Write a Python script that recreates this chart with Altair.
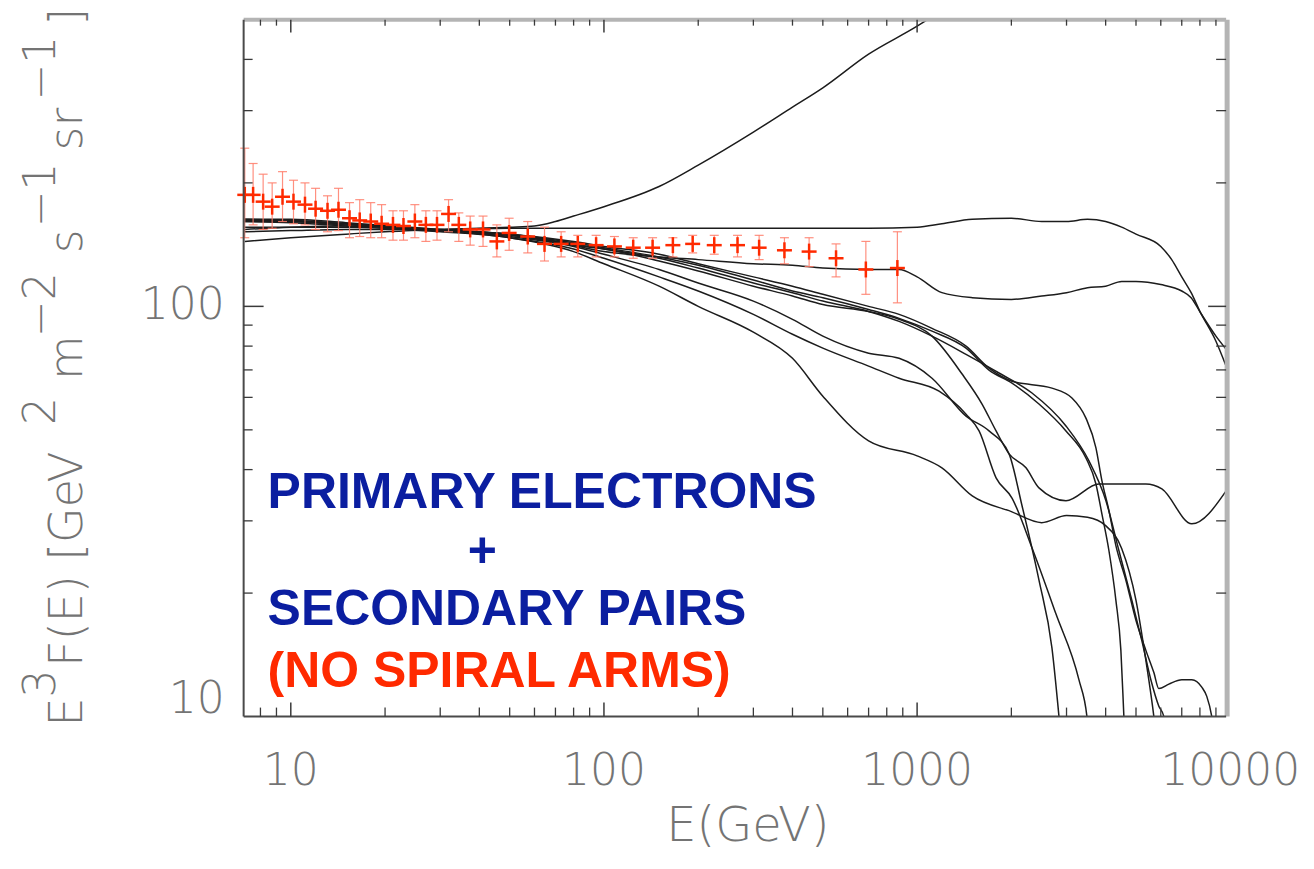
import altair as alt
import pandas as pd

# ---------------- data ----------------
# observed spectrum (red crosses): energy [GeV], E^3F, upper / lower error
obs_E = [7.13, 7.58, 8.16, 8.72, 9.41, 10.2, 11.1, 12.0, 13.1, 14.2, 15.4, 16.6, 18.0, 19.5,
         21.2, 22.9, 24.9, 27.0, 29.3, 31.9, 34.4, 37.4, 41.1, 45.5, 49.8, 57.1, 64.6, 73.0,
         82.5, 94.4, 108, 124, 143, 166, 192, 225, 267, 313, 377, 452, 551, 686, 865]
obs_F = [187, 187, 180, 175, 185, 180, 177, 173, 171, 172, 164, 162, 161, 159, 158, 157, 161,
         158, 158, 168, 158, 154, 154, 144, 151, 148, 142, 142, 142, 141, 140, 139, 139, 141,
         142, 141, 141, 139, 137, 136, 131, 123, 124]
obs_hi = [243, 223, 210, 200, 213, 203, 200, 194, 186, 194, 179, 182, 179, 177, 171, 171, 177,
          171, 171, 182, 169, 166, 166, 158, 164, 161, 156, 152, 149, 149, 148, 147, 147, 147,
          149, 149, 149, 149, 147, 147, 142, 144, 152]
obs_lo = [147, 158, 154, 155, 161, 159, 158, 154, 152, 153, 147, 148, 147, 147, 145, 145, 147,
          144, 145, 152, 144, 141, 140, 132, 137, 135, 129, 132, 132, 132, 132, 131, 131, 132,
          135, 134, 132, 130, 127, 125, 118, 107, 102]

# model curves (black lines)
A_E = [7.13, 10, 15, 20, 30, 50, 60, 70, 80, 100, 150, 200, 300, 400, 500, 700, 1000, 1200]
A_F = [144, 147, 150, 152, 154, 156, 157, 161, 166, 175, 196, 221, 266, 306, 341, 412, 482, 527]

B_E = [7.13, 10, 15, 30, 50, 100, 200, 300, 500, 700, 1000, 1200, 1500, 2000, 2500, 3000,
       3500, 4000, 4500, 5000, 6000, 6500, 7000, 7500, 8000, 9000, 9700]
B_F = [152, 153, 154, 154, 155, 155, 155, 155, 155, 155, 156, 159, 163, 164, 161, 161,
       163, 161, 156, 150, 140, 130, 118, 108, 97.2, 82.2, 71.5]

C_E = [7.13, 10, 15, 20, 30, 50, 70, 100, 150, 200, 300, 400, 500, 700, 876, 1000, 1200, 1500,
       2000, 2500, 3000, 3500, 4000, 4500, 5000, 6000, 7000, 7500, 8000, 9000, 9700]
C_F = [161, 160, 157, 156, 153, 150, 144, 136, 132, 130, 127, 126, 124, 123, 123, 118, 108, 105,
       104, 106, 108, 111, 112, 115, 115, 113, 109, 105, 97, 84.6, 78.6]

D_E = [7.13, 10, 15, 30, 50, 80, 100, 150, 200, 300, 400, 500, 700, 876, 1116, 1433, 1697,
       2009, 2695, 3122, 3460, 3724, 3891, 4097, 4313, 4642, 4995, 5377, 5702, 5915, 6366,
       7003, 7537, 8110, 8414, 8730, 8924]
D_F = [163, 163, 160, 154, 150, 144, 140, 134, 127, 118, 112, 107, 100, 95.6, 88.4, 80.0, 70.7,
       65.7, 63.2, 59.8, 53.4, 45.2, 37.6, 31.8, 26.1, 21.5, 17.2, 14.5, 12.8, 11.7, 12.0,
       12.3, 12.3, 11.8, 11.2, 10.0, 8.84]

D2_E = [7.13, 10, 15, 30, 50, 80, 100, 150, 200, 300, 400, 500, 700, 876, 1116, 1433, 1697,
        2009, 2450, 2988, 3460, 3724, 3891, 4097, 4313, 4474, 4574, 4642]
D2_F = [162, 162, 159, 154, 150, 143, 139, 132, 126, 116, 109, 105, 98.3, 93.5, 87.0, 79.1,
        69.9, 65.0, 57.8, 49.7, 42.7, 36.9, 31.2, 25.4, 19.2, 14.5, 10.0, 7.81]

J_E = [7.13, 10, 15, 30, 50, 80, 100, 150, 200, 300, 400, 500, 700, 876, 1116, 1433, 1826,
       2327, 2988, 3538, 4008, 4409, 4851, 5221, 5577, 5915, 6137, 6273]
J_F = [161, 161, 159, 153, 149, 142, 138, 131, 124, 114, 108, 103, 97.2, 91.9, 84.6, 76.4,
       68.8, 61.5, 51.1, 42.0, 33.6, 25.4, 19.2, 15.3, 12.3, 10.6, 10.0, 8.84]

V_E = [7.13, 10, 15, 30, 50, 80, 100, 150, 200, 300, 400, 500, 700, 876, 1116, 1392, 1612,
       1787, 1966, 2227, 2450, 2988, 3806, 5377, 6048, 7537, 9700]
V_F = [154, 156, 157, 153, 149, 141, 138, 129, 122, 112, 106, 101, 97.2, 93.0, 84.6, 68.4,
       57.8, 49.7, 43.7, 40.4, 36.1, 33.6, 36.9, 36.9, 35.9, 29.5, 35.5]

L_E = [7.13, 10, 15, 30, 50, 80, 100, 150, 200, 300, 400, 500, 700, 1000, 1200, 1500, 2000,
       2500, 3000, 3500, 4000, 4500, 5000, 5377, 5702, 5915]
L_F = [156, 156, 156, 152, 147, 136, 127, 112, 100, 86.5, 74.7, 60.4, 47.0, 43.2, 40.4, 34.5,
       31.6, 29.7, 30.9, 30.6, 29.2, 25.7, 19.2, 13.7, 10.0, 7.81]

G_E = [7.13, 10, 15, 30, 50, 80, 100, 150, 200, 300, 400, 500, 700, 876, 1116, 1433, 1697,
       1966, 2162, 2450, 2695, 2838, 2922]
G_F = [163, 162, 159, 153, 148, 140, 134, 123, 114, 103, 93.0, 84.6, 76.9, 74.7, 66.8, 54.0,
       49.7, 43.7, 32.7, 21.5, 14.7, 10.0, 7.81]

H_E = [7.13, 10, 15, 30, 50, 80, 100, 150, 200, 300, 400, 500, 700, 876, 1175, 1433, 1577,
       1787, 2009, 2327, 2775, 3286, 3486, 3589]
H_F = [162, 161, 158, 153, 147, 138, 131, 118, 109, 95.6, 85.5, 79.1, 71.5, 66.8, 62.1, 54.6,
       49.7, 38.2, 34.1, 25.8, 17.8, 12.3, 10.0, 7.81]

# axis ticks and labels
x_major = [10, 100, 1000]
x_minor = [8, 9, 20, 30, 40, 50, 60, 70, 80, 90, 200, 300, 400, 500, 600, 700, 800, 900,
           2000, 3000, 4000, 5000, 6000, 7000, 8000, 9000]
y_major = [100]
y_minor = [20, 30, 40, 50, 60, 70, 80, 90, 200, 300, 400]
x_label_vals = [10, 100, 1000, 10000]
x_label_txt = ["10", "100", "1000", "10000"]

# ---------------- build tables ----------------
curves = {"A": (A_E, A_F), "B": (B_E, B_F), "C": (C_E, C_F), "D": (D_E, D_F),
          "D2": (D2_E, D2_F), "J": (J_E, J_F), "V": (V_E, V_F), "L": (L_E, L_F),
          "G": (G_E, G_F), "H": (H_E, H_F)}
rows = []
for name, (es, fs) in curves.items():
    for e, f in zip(es, fs):
        rows.append({"curve": name, "E": e, "F": f})
curve_df = pd.DataFrame(rows)
obs_df = pd.DataFrame({"E": obs_E, "F": obs_F, "hi": obs_hi, "lo": obs_lo})

W, H = 984, 698
xs = alt.Scale(type="log", domain=[7.07, 9700], nice=False)
ys = alt.Scale(type="log", domain=[10, 500], nice=False)


def X(f):
    return alt.X(f, type="quantitative", scale=xs, axis=None)


def Y(f):
    return alt.Y(f, type="quantitative", scale=ys, axis=None)


one = pd.DataFrame({"a": [0]})
GRAY = "#747474"
TICK = "#3a3a3a"


def label(s, x, y, size, color=GRAY, angle=0, align="left", baseline="alphabetic",
          weight=200, font="DejaVu Sans"):
    return alt.Chart(one).mark_text(text=s, fontSize=size, color=color, angle=angle,
                                    align=align, baseline=baseline, fontWeight=weight,
                                    font=font).encode(x=alt.value(x), y=alt.value(y))


layers = []

# model curves
layers.append(alt.Chart(curve_df).mark_line(color="#1c1c1c", strokeWidth=1.5, clip=True,
                                            interpolate="monotone").encode(
    x=X("E"), y=Y("F"), detail="curve:N", order="E:Q"))

# observed data
EB = "#ff7d6a"
RED = "#ff2a00"
base = alt.Chart(obs_df)
layers.append(base.mark_rule(color=EB, strokeWidth=1.2, opacity=0.85).encode(
    x=X("E"), y=Y("lo"), y2="hi"))
layers.append(base.mark_point(shape="M-1,0L1,0", size=81, color=EB, strokeWidth=1.2,
                              filled=False, opacity=0.85).encode(x=X("E"), y=Y("lo")))
layers.append(base.mark_point(shape="M-1,0L1,0", size=81, color=EB, strokeWidth=1.2,
                              filled=False, opacity=0.85).encode(x=X("E"), y=Y("hi")))
layers.append(base.mark_point(shape="M-1,0L1,0", size=225, color=RED, strokeWidth=2.5,
                              filled=False, opacity=1).encode(x=X("E"), y=Y("F")))
layers.append(base.mark_point(shape="M0,-1L0,1", size=256, color=RED, strokeWidth=2.5,
                              filled=False, opacity=1).encode(x=X("E"), y=Y("F")))

# frame
layers.append(alt.Chart(one).mark_rule(color="#b4b4b4", strokeWidth=4).encode(
    x=alt.value(0), x2=alt.value(W), y=alt.value(0)))
layers.append(alt.Chart(one).mark_rule(color="#b4b4b4", strokeWidth=5).encode(
    x=alt.value(W + 1), y=alt.value(0), y2=alt.value(H)))
layers.append(alt.Chart(one).mark_rule(color="#4a4a4a", strokeWidth=2).encode(
    x=alt.value(0), y=alt.value(0), y2=alt.value(H)))
layers.append(alt.Chart(one).mark_rule(color="#4a4a4a", strokeWidth=2).encode(
    x=alt.value(0), x2=alt.value(W), y=alt.value(H)))

# ticks
xmaj = alt.Chart(pd.DataFrame({"t": x_major}))
xmin = alt.Chart(pd.DataFrame({"t": x_minor}))
ymaj = alt.Chart(pd.DataFrame({"t": y_major}))
ymin = alt.Chart(pd.DataFrame({"t": y_minor}))
layers += [
    xmaj.mark_rule(color=TICK, strokeWidth=1.5).encode(x=X("t"), y=alt.value(H), y2=alt.value(H - 14)),
    xmin.mark_rule(color=TICK, strokeWidth=1.3).encode(x=X("t"), y=alt.value(H), y2=alt.value(H - 9)),
    xmaj.mark_rule(color=TICK, strokeWidth=1.5).encode(x=X("t"), y=alt.value(0), y2=alt.value(13)),
    xmin.mark_rule(color=TICK, strokeWidth=1.3).encode(x=X("t"), y=alt.value(0), y2=alt.value(6)),
    ymaj.mark_rule(color=TICK, strokeWidth=1.5).encode(y=Y("t"), x=alt.value(0), x2=alt.value(20)),
    ymin.mark_rule(color=TICK, strokeWidth=1.3).encode(y=Y("t"), x=alt.value(0), x2=alt.value(9)),
    ymaj.mark_rule(color=TICK, strokeWidth=1.5).encode(y=Y("t"), x=alt.value(W), x2=alt.value(W - 18)),
    ymin.mark_rule(color=TICK, strokeWidth=1.3).encode(y=Y("t"), x=alt.value(W), x2=alt.value(W - 10)),
]

# tick labels
layers.append(alt.Chart(pd.DataFrame({"v": x_label_vals, "s": x_label_txt})).mark_text(
    fontSize=44, color=GRAY, font="DejaVu Sans", fontWeight=200, align="center",
    baseline="middle").encode(x=X("v"), y=alt.value(754), text="s:N"))
layers.append(alt.Chart(pd.DataFrame({"v": [100], "s": ["100"]})).mark_text(
    fontSize=44, color=GRAY, font="DejaVu Sans", fontWeight=200, align="right",
    baseline="middle").encode(y=Y("v"), x=alt.value(-19), text="s:N"))
layers.append(alt.Chart(pd.DataFrame({"v": [10], "s": ["10"]})).mark_text(
    fontSize=44, color=GRAY, font="DejaVu Sans", fontWeight=200, align="right",
    baseline="middle", dy=-17).encode(y=Y("v"), x=alt.value(-19), text="s:N"))

# x title
layers.append(label("E(GeV)", 505, 809, 48, align="center", baseline="middle"))

# y title, built from pieces (rotated)
MB, SB = -162, -189
for s, yy, bx, sz in [("E", 708, MB, 46), ("3", 679, SB, 44), ("F(E) [GeV", 648, MB, 46),
                      ("2", 406, SB, 44), ("m", 361, MB, 46), ("\u22122", 318, SB, 44),
                      ("s", 234, MB, 46), ("\u22121", 208, SB, 44), ("sr", 131, MB, 46),
                      ("\u22121", 81, SB, 44), ("]", 6, MB, 46)]:
    layers.append(label(s, bx, yy, sz, angle=270, align="left", baseline="alphabetic"))

# annotation
BLUE = "#0b1ea0"
layers.append(label("PRIMARY ELECTRONS", 24, 489, 50, color=BLUE, weight="bold", font="Liberation Sans"))
layers.append(label("+", 239, 548, 50, color=BLUE, weight="bold", font="Liberation Sans", align="center"))
layers.append(label("SECONDARY PAIRS", 24, 606, 50, color=BLUE, weight="bold", font="Liberation Sans"))
layers.append(label("(NO SPIRAL ARMS)", 24, 668, 50, color="#ff2a00", weight="bold", font="Liberation Sans"))

chart = alt.layer(*layers).properties(
    width=W, height=H,
    autosize=alt.AutoSizeParams(type="none"),
    padding={"left": 236, "top": 11, "right": 80, "bottom": 150},
).configure_view(stroke=None)

chart.save("out.html", embed_options={"renderer": "svg", "actions": False})
